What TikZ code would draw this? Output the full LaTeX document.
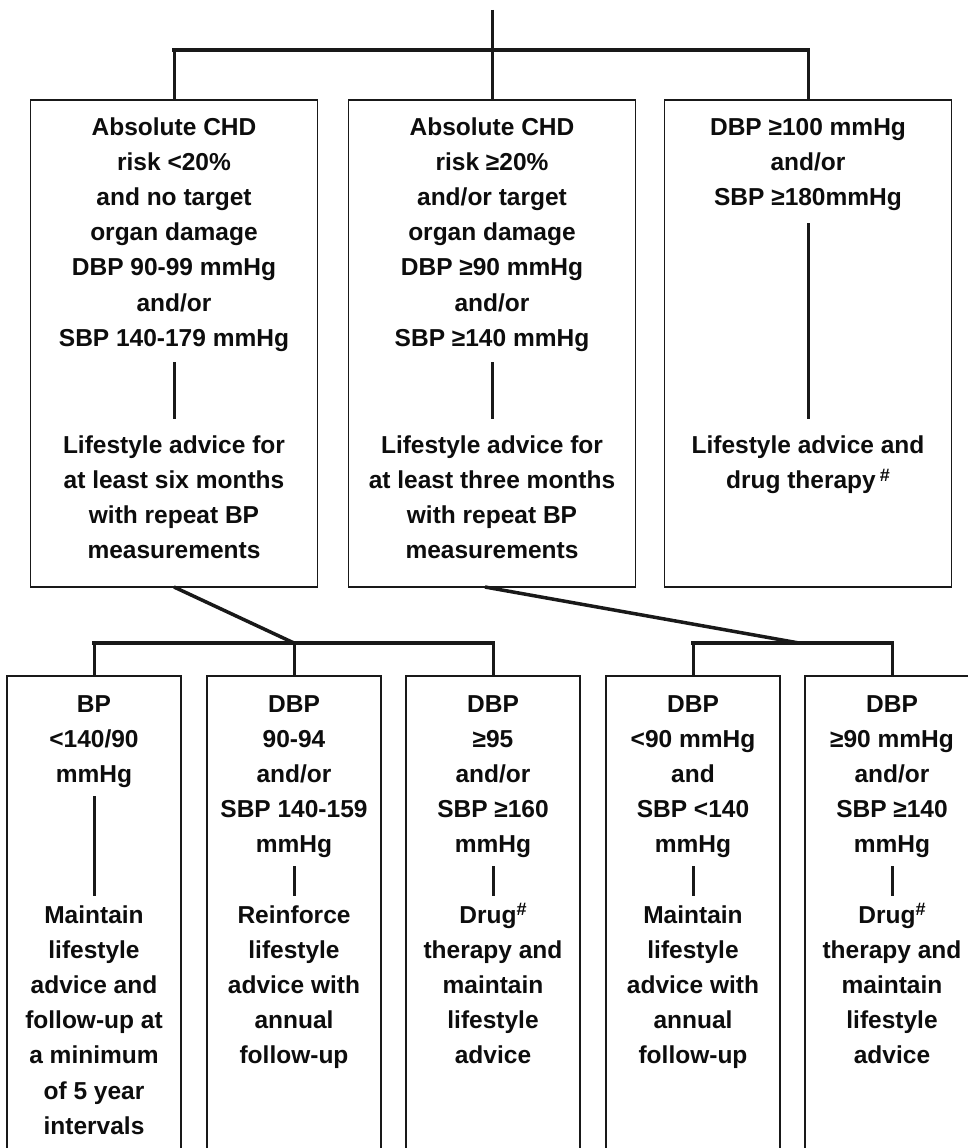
\documentclass[tikz,border=0pt]{standalone}
\usepackage{fontspec}
\setmainfont{Liberation Sans}
\newcommand\mylines[1]{\vtop{\baselineskip=35.2pt\lineskiplimit=-100pt\halign{\hfil##\hfil\cr #1\crcr}}}
\newcommand\hashsup{\raisebox{0.55ex}{\fontsize{18}{18}\selectfont\#}}
\begin{document}
\begin{tikzpicture}[x=1pt,y=-1pt,
  box/.style={draw=black!90,line width=1.3pt,rectangle,inner sep=0pt},
  tbox/.style={box,minimum width=287pt,minimum height=487pt},
  bbox/.style={box,minimum width=174pt,minimum height=490pt},
  txt/.style={anchor=base,inner sep=0pt,text=black!95,font=\fontsize{24.5}{35.2}\selectfont\bfseries},
  conn/.style={line width=3pt,draw=black!90},
  bar/.style={line width=4pt,draw=black!90,line cap=rect},
  inner/.style={line width=3pt,draw=black!90}]
\useasboundingbox[fill=white] (0,0) rectangle (967,1148);
% top boxes
\node[tbox] (b1) at (174,343.5) {};
\node[tbox] (b2) at (492,343.5) {};
\node[tbox] (b3) at (808,343.5) {};
% bottom boxes
\node[bbox] (c1) at (94,921) {};
\node[bbox] (c2) at (294,921) {};
\node[bbox] (c3) at (493,921) {};
\node[bbox] (c4) at (693,921) {};
\node[bbox] (c5) at (892,921) {};
% top connectors
\coordinate (top) at (492,10);
\coordinate (h1) at (174,50);
\coordinate (h2) at (492,50);
\coordinate (h3) at (808,50);
\draw[conn] (top) -- (h2);
\draw[bar] (h1) -- (h3);
\draw[conn] (h1) -- (b1.north);
\draw[conn] (h2) -- (b2.north);
\draw[conn] (h3) -- (b3.north);
% left lower group
\coordinate (d1) at (174,587);
\coordinate (j1) at (294,643);
\coordinate (l1) at (94,643);
\coordinate (l3) at (493,643);
\draw[conn,line width=3.5pt] (d1) -- (j1);
\draw[bar] (l1) -- (l3);
\draw[conn] (l1) -- (c1.north);
\draw[conn] (j1) -- (c2.north);
\draw[conn] (l3) -- (c3.north);
% right lower group
\coordinate (d2) at (485,587);
\coordinate (j2) at (799,643);
\coordinate (r1) at (693,643);
\coordinate (r2) at (892,643);
\draw[conn,line width=3.5pt] (d2) -- (j2);
\draw[bar] (r1) -- (r2);
\draw[conn] (r1) -- (c4.north);
\draw[conn] (r2) -- (c5.north);
% top box texts
\node[txt] (t1a) at (174,135) {\mylines{Absolute CHD\cr risk <20\%\cr and no target\cr organ damage\cr DBP 90-99 mmHg\cr and/or\cr SBP 140-179 mmHg}};
\node[txt] (t1b) at (174,453) {\mylines{Lifestyle advice for\cr at least six months\cr with repeat BP\cr measurements}};
\node[txt] (t2a) at (492,135) {\mylines{Absolute CHD\cr risk ≥20\%\cr and/or target\cr organ damage\cr DBP ≥90 mmHg\cr and/or\cr SBP ≥140 mmHg}};
\node[txt] (t2b) at (492,453) {\mylines{Lifestyle advice for\cr at least three months\cr with repeat BP\cr measurements}};
\node[txt] (t3a) at (808,135) {\mylines{DBP ≥100 mmHg\cr and/or\cr SBP ≥180mmHg}};
\node[txt] (t3b) at (808,453) {\mylines{Lifestyle advice and\cr drug therapy\,\hashsup}};
\coordinate (i1a) at (174,362); \coordinate (i1b) at (174,419);
\coordinate (i2a) at (492,362); \coordinate (i2b) at (492,419);
\coordinate (i3a) at (808,223); \coordinate (i3b) at (808,419);
\draw[inner] (i1a) -- (i1b);
\draw[inner] (i2a) -- (i2b);
\draw[inner] (i3a) -- (i3b);
% bottom box texts
\node[txt] (u1a) at (94,712) {\mylines{BP\cr <140/90\cr mmHg}};
\node[txt] (u1b) at (94,923) {\mylines{Maintain\cr lifestyle\cr advice and\cr follow-up at\cr a minimum\cr of 5 year\cr intervals}};
\node[txt] (u2a) at (294,712) {\mylines{DBP\cr 90-94\cr and/or\cr SBP 140-159\cr mmHg}};
\node[txt] (u2b) at (294,923) {\mylines{Reinforce\cr lifestyle\cr advice with\cr annual\cr follow-up}};
\node[txt] (u3a) at (493,712) {\mylines{DBP\cr ≥95\cr and/or\cr SBP ≥160\cr mmHg}};
\node[txt] (u3b) at (493,923) {\mylines{Drug\hashsup\cr therapy and\cr maintain\cr lifestyle\cr advice}};
\node[txt] (u4a) at (693,712) {\mylines{DBP\cr <90 mmHg\cr and\cr SBP <140\cr mmHg}};
\node[txt] (u4b) at (693,923) {\mylines{Maintain\cr lifestyle\cr advice with\cr annual\cr follow-up}};
\node[txt] (u5a) at (892,712) {\mylines{DBP\cr ≥90 mmHg\cr and/or\cr SBP ≥140\cr mmHg}};
\node[txt] (u5b) at (892,923) {\mylines{Drug\hashsup\cr therapy and\cr maintain\cr lifestyle\cr advice}};
\coordinate (k1a) at (94,796); \coordinate (k1b) at (94,896);
\coordinate (k2a) at (294,866); \coordinate (k2b) at (294,896);
\coordinate (k3a) at (493,866); \coordinate (k3b) at (493,896);
\coordinate (k4a) at (693,866); \coordinate (k4b) at (693,896);
\coordinate (k5a) at (892,866); \coordinate (k5b) at (892,896);
\draw[inner] (k1a) -- (k1b);
\draw[inner] (k2a) -- (k2b);
\draw[inner] (k3a) -- (k3b);
\draw[inner] (k4a) -- (k4b);
\draw[inner] (k5a) -- (k5b);
\end{tikzpicture}
\end{document}
